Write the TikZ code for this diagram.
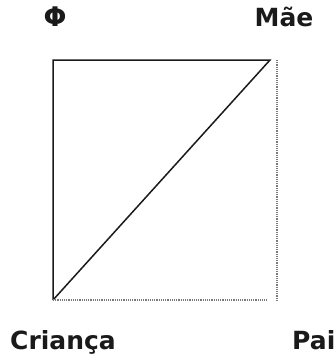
\documentclass[tikz,border=0pt]{standalone}
\usepackage{fontspec}
\setmainfont{DejaVu Sans}
\usepackage{xcolor}
\usetikzlibrary{positioning}
\definecolor{lineDark}{HTML}{1A1A1A}
\definecolor{dotGray}{HTML}{7A7A7A}

\begin{document}
\begin{tikzpicture}[x=1pt, y=-1pt,
      every node/.style={font=\fontsize{25}{29}\selectfont\bfseries, text=lineDark, inner sep=0pt},
      solidln/.style={draw=lineDark, line width=1.5pt},
      dotln/.style={draw=dotGray, line width=1.2pt, dash pattern=on 1.2pt off 1pt},
    ]
      \useasboundingbox (0,0) rectangle (335,356);

      % corners
      \coordinate (tl) at (53,60);
      \coordinate (tr) at (270,60);
      \coordinate (bl) at (53,300);
      \coordinate (br) at (267,300);
      \coordinate (rt) at (277,60);
      \coordinate (rb) at (277,300);

      % labels
      \node[anchor=base, font=\fontsize{27}{30}\selectfont\bfseries] (phi) at (55,27) {Φ};
      \node[anchor=base] (mae) at (284,27) {Mãe};
      \node[anchor=base] (crianca) at (63,349) {Criança};
      \node[anchor=base west] (pai) at (292,349) {Pai};

      % lines
      \draw[solidln] (bl) -- (tl) -- (tr) -- (bl);
      \draw[dotln] (bl) -- (br);
      \draw[dotln] (rt) -- (rb);

    \end{tikzpicture}
\end{document}
